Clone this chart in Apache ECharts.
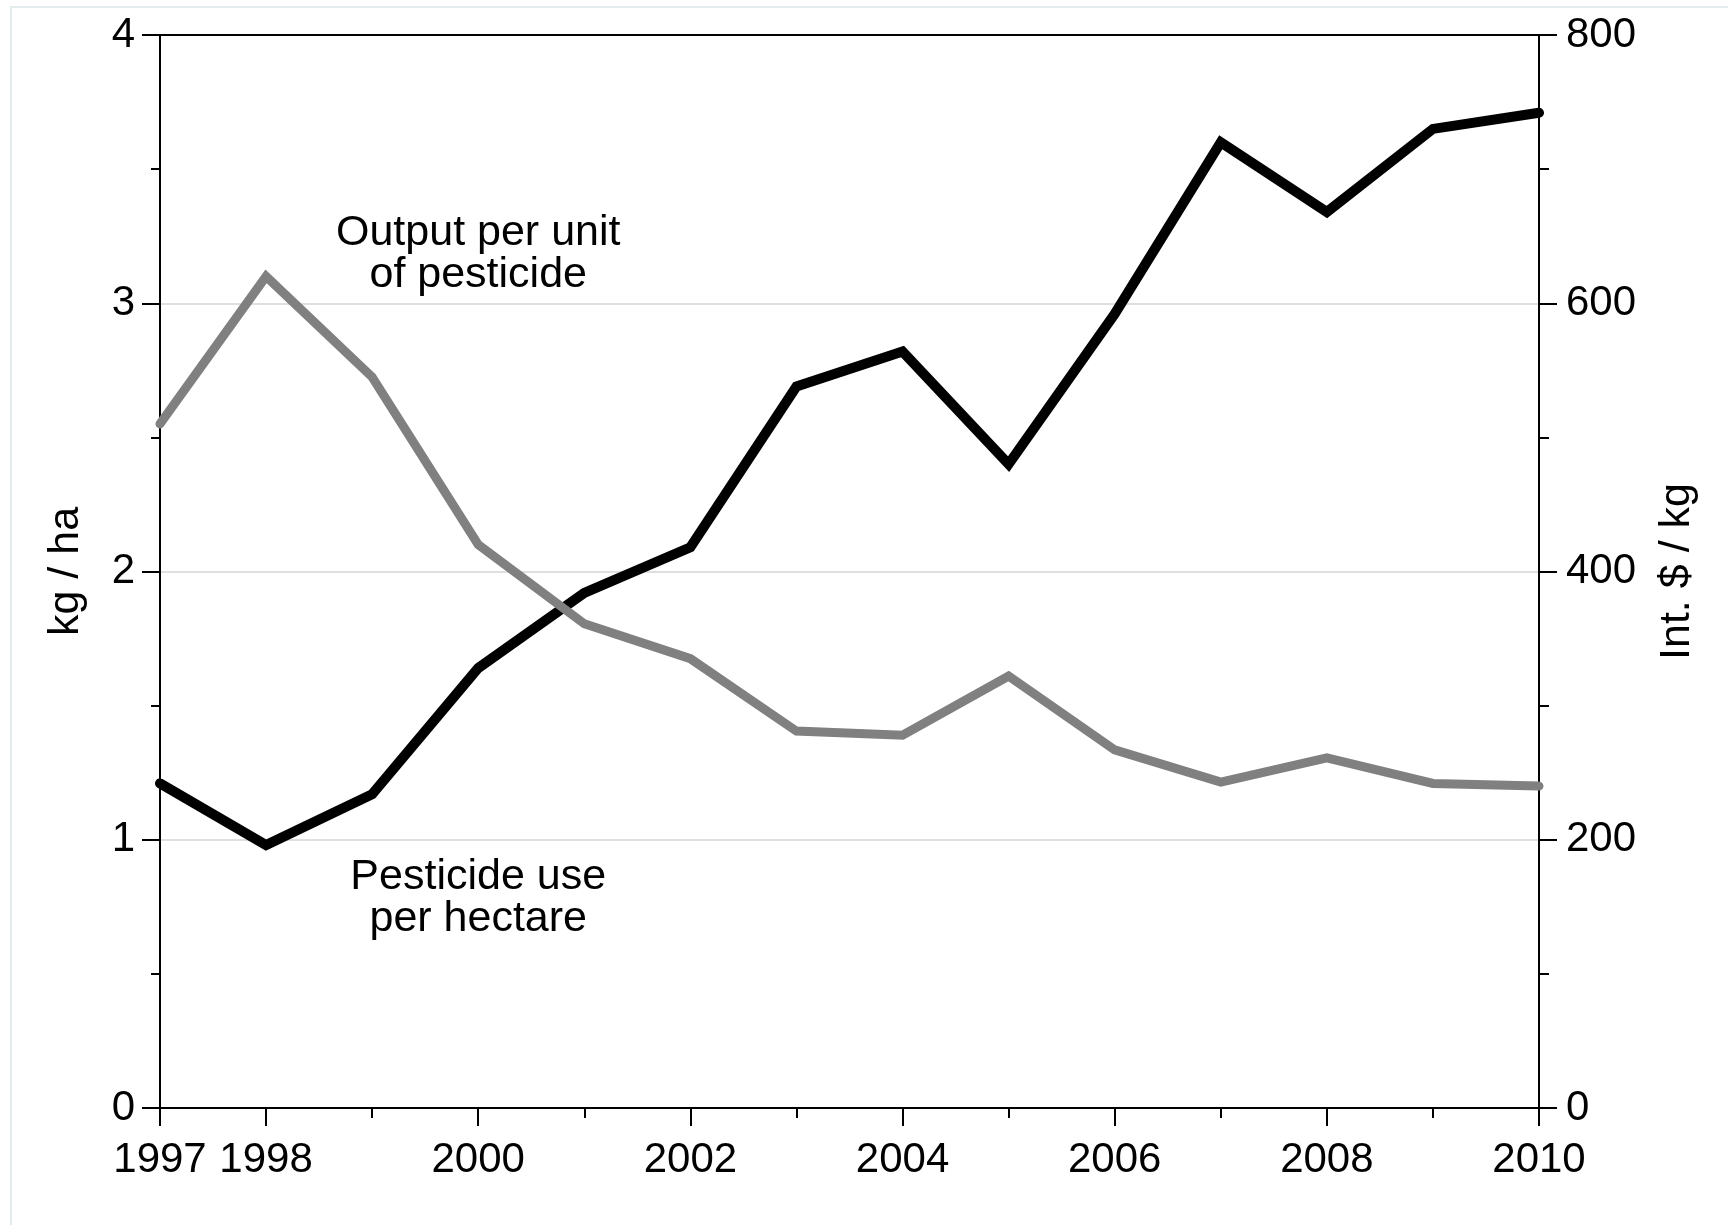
<!DOCTYPE html>
<html>
<head>
<meta charset="utf-8">
<title>Pesticide use and output per unit of pesticide, 1997–2010</title>
<script src="https://cdn.jsdelivr.net/npm/echarts@6/dist/echarts.min.js"></script>
<style>
  html, body { margin: 0; padding: 0; background: #ffffff; }
  #chart { width: 1728px; height: 1225px; }
</style>
</head>
<body>
<div id="chart"></div>
<script>
// Years on the horizontal axis
const years = [1997, 1998, 1999, 2000, 2001, 2002, 2003, 2004, 2005, 2006, 2007, 2008, 2009, 2010];
// Years that carry a label and a long tick
const labelledYears = [1997, 1998, 2000, 2002, 2004, 2006, 2008, 2010];

// Pesticide use per hectare (kg / ha, left axis)
const pesticideUse = [1.21, 0.98, 1.17, 1.64, 1.92, 2.09, 2.69, 2.82, 2.40, 2.96, 3.60, 3.34, 3.65, 3.71];
// Output per unit of pesticide (Int. $ / kg, right axis)
const outputPerUnit = [510, 620, 545, 420, 361, 335, 281, 278, 322, 267, 243, 261, 242, 240];

// Axis ranges and titles
const leftAxisMax = 4;
const leftAxisStep = 1;
const rightAxisMax = 800;
const rightAxisStep = 200;
const leftAxisTitle = 'kg / ha';
const rightAxisTitle = 'Int. $ / kg';

// In-plot series captions, anchored in data space (year, kg / ha)
const outputCaption = 'Output per unit\nof pesticide';
const outputCaptionAt = [2000, 3.184];
const useCaption = 'Pesticide use\nper hectare';
const useCaptionAt = [2000, 0.781];

const FONT = '"Liberation Sans", Arial, Helvetica, sans-serif';

const chart = echarts.init(document.getElementById('chart'), null, { renderer: 'canvas' });

const pair = (xs, ys) => xs.map((x, i) => [x, ys[i]]);

const captionLabel = (text) => ({
  show: true,
  position: 'inside',
  formatter: text,
  color: '#000000',
  fontFamily: FONT,
  fontSize: 43,
  lineHeight: 42,
  align: 'center'
});

chart.setOption({
  animation: false,
  backgroundColor: '#ffffff',
  textStyle: { fontFamily: FONT, color: '#000000' },
  graphic: [{
    type: 'rect',
    silent: true,
    shape: { x: 11, y: 7, width: 1800, height: 1300 },
    style: { fill: 'none', stroke: '#e3eded', lineWidth: 2 }
  }],
  grid: { left: 160, right: 189, top: 35, bottom: 117, containLabel: false },
  xAxis: [
    {
      type: 'value',
      position: 'bottom',
      min: years[0],
      max: years[years.length - 1],
      interval: 1,
      axisLine: { show: true, onZero: false, lineStyle: { color: '#000000', width: 2 } },
      axisTick: { show: true, customValues: labelledYears, length: 18, lineStyle: { color: '#000000', width: 2 } },
      axisLabel: {
        show: true,
        customValues: labelledYears,
        formatter: (v) => String(v),
        color: '#000000',
        fontFamily: FONT,
        fontSize: 42,
        margin: 31
      },
      splitLine: { show: false }
    },
    {
      // every year gets a short tick
      type: 'value',
      position: 'bottom',
      min: years[0],
      max: years[years.length - 1],
      interval: 1,
      axisLine: { show: false, onZero: false },
      axisTick: { show: true, length: 10, lineStyle: { color: '#000000', width: 2 } },
      axisLabel: { show: false },
      splitLine: { show: false }
    },
    {
      // top frame line
      type: 'value',
      position: 'top',
      min: years[0],
      max: years[years.length - 1],
      axisLine: { show: true, onZero: false, lineStyle: { color: '#000000', width: 2 } },
      axisTick: { show: false },
      axisLabel: { show: false },
      splitLine: { show: false }
    }
  ],
  yAxis: [
    {
      type: 'value',
      position: 'left',
      min: 0,
      max: leftAxisMax,
      interval: leftAxisStep,
      name: leftAxisTitle,
      nameLocation: 'middle',
      nameRotate: 90,
      nameGap: 72,
      nameTextStyle: { color: '#000000', fontFamily: FONT, fontSize: 43 },
      axisLine: { show: true, onZero: false, lineStyle: { color: '#000000', width: 2 } },
      axisTick: { show: true, length: 18, lineStyle: { color: '#000000', width: 2 } },
      minorTick: { show: true, splitNumber: 2, length: 9, lineStyle: { color: '#000000', width: 2 } },
      axisLabel: { color: '#000000', fontFamily: FONT, fontSize: 42, margin: 25 },
      splitLine: { show: true, lineStyle: { color: '#d4d4d4', width: 1.5 } }
    },
    {
      type: 'value',
      position: 'right',
      min: 0,
      max: rightAxisMax,
      interval: rightAxisStep,
      name: rightAxisTitle,
      nameLocation: 'middle',
      nameRotate: 90,
      nameGap: 117,
      nameTextStyle: { color: '#000000', fontFamily: FONT, fontSize: 43 },
      axisLine: { show: true, onZero: false, lineStyle: { color: '#000000', width: 2 } },
      axisTick: { show: true, length: 18, lineStyle: { color: '#000000', width: 2 } },
      minorTick: { show: true, splitNumber: 2, length: 10, lineStyle: { color: '#000000', width: 2 } },
      axisLabel: { color: '#000000', fontFamily: FONT, fontSize: 42, margin: 27 },
      splitLine: { show: false }
    }
  ],
  series: [
    {
      name: 'Pesticide use per hectare',
      type: 'line',
      xAxisIndex: 0,
      yAxisIndex: 0,
      data: pair(years, pesticideUse),
      showSymbol: false,
      symbol: 'none',
      clip: false,
      lineStyle: { color: '#000000', width: 10, cap: 'round', join: 'miter' },
      markPoint: {
        symbol: 'circle',
        symbolSize: 0,
        silent: true,
        data: [
          { coord: useCaptionAt, label: captionLabel(useCaption) },
          { coord: outputCaptionAt, label: captionLabel(outputCaption) }
        ]
      },
      z: 3
    },
    {
      name: 'Output per unit of pesticide',
      type: 'line',
      xAxisIndex: 0,
      yAxisIndex: 1,
      data: pair(years, outputPerUnit),
      showSymbol: false,
      symbol: 'none',
      clip: false,
      lineStyle: { color: '#808080', width: 9, cap: 'round', join: 'miter' },
      z: 4
    }
  ]
});
</script>
</body>
</html>
